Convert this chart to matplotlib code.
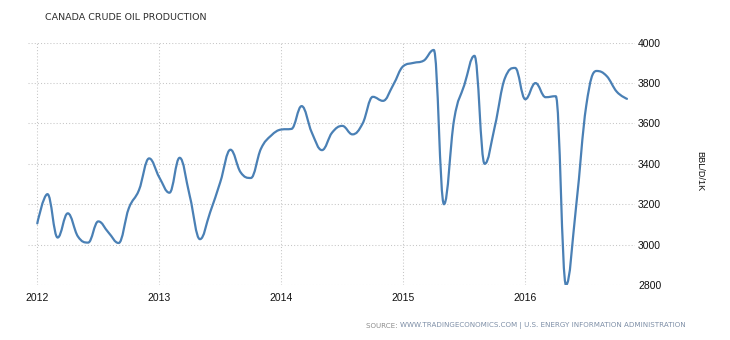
import numpy as np
import matplotlib
matplotlib.use("Agg")
import matplotlib.pyplot as plt
from matplotlib.path import Path
from matplotlib.patches import PathPatch

# Monthly Canadian crude oil production, thousand barrels per day (Jan 2012 - Nov 2016)
start_year = 2012
production = [
    3105, 3250, 3035, 3155, 3040, 3010, 3115, 3060, 3008, 3180, 3270, 3427,  # 2012
    3333, 3257, 3430, 3240, 3027, 3160, 3310, 3470, 3358, 3330, 3475, 3540,  # 2013
    3570, 3573, 3686, 3555, 3468, 3555, 3588, 3546, 3600, 3732, 3712, 3790,  # 2014
    3884, 3900, 3911, 3964, 3200, 3620, 3790, 3935, 3400, 3585, 3825, 3875,  # 2015
    3720, 3800, 3730, 3735, 2800, 3190, 3690, 3860, 3835, 3757, 3722,        # 2016
]
year_ticks = [2012, 2013, 2014, 2015, 2016]
value_ticks = [2800, 3000, 3200, 3400, 3600, 3800, 4000]

title = "CANADA CRUDE OIL PRODUCTION"
unit_label = "BBL/D/1K"
source_prefix = "SOURCE: "
source_rest = "WWW.TRADINGECONOMICS.COM | U.S. ENERGY INFORMATION ADMINISTRATION"

LINE_COLOR = "#4a80b5"
GRID_COLOR = "#c6c6c6"
TEXT_COLOR = "#111111"

x = np.array([start_year + i / 12.0 for i in range(len(production))])
y = np.array(production, dtype=float)


def spline_path(xs, ys, smoothing=1.5):
    """Smooth cubic Bezier through every point, with control points kept
    between neighbouring values so extremes stay at the data points."""
    n = len(xs)
    left = [(xs[i], ys[i]) for i in range(n)]
    right = [(xs[i], ys[i]) for i in range(n)]
    denom = smoothing + 1
    for i in range(1, n - 1):
        lx, ly = xs[i - 1], ys[i - 1]
        px, py = xs[i], ys[i]
        nx, ny = xs[i + 1], ys[i + 1]
        lcx = (smoothing * px + lx) / denom
        lcy = (smoothing * py + ly) / denom
        rcx = (smoothing * px + nx) / denom
        rcy = (smoothing * py + ny) / denom
        corr = 0.0
        if rcx != lcx:
            corr = (rcy - lcy) * (rcx - px) / (rcx - lcx) + py - rcy
        lcy += corr
        rcy += corr
        if lcy > ly and lcy > py:
            lcy = max(ly, py)
            rcy = 2 * py - lcy
        elif lcy < ly and lcy < py:
            lcy = min(ly, py)
            rcy = 2 * py - lcy
        if rcy > ny and rcy > py:
            rcy = max(ny, py)
            lcy = 2 * py - rcy
        elif rcy < ny and rcy < py:
            rcy = min(ny, py)
            lcy = 2 * py - rcy
        left[i] = (lcx, lcy)
        right[i] = (rcx, rcy)
    verts = [(xs[0], ys[0])]
    codes = [Path.MOVETO]
    for i in range(1, n):
        verts += [right[i - 1], left[i], (xs[i], ys[i])]
        codes += [Path.CURVE4] * 3
    return Path(verts, codes)


fig = plt.figure(figsize=(7.3, 3.4), dpi=100, facecolor="white")
W, H = 730.0, 340.0
ax = fig.add_axes([28 / W, 1 - 285 / H, (635 - 28) / W, (285 - 42.7) / H])
ax.set_facecolor("white")

ax.set_xlim(start_year - 9.3 / 122.0, start_year + (635 - 37.3) / 122.0)
ax.set_ylim(value_ticks[0], value_ticks[-1])

for s in ax.spines.values():
    s.set_visible(False)

dot = (0, (1, 2))
for v in value_ticks:
    ax.axhline(v, color=GRID_COLOR, lw=0.75, ls=dot, zorder=1)
for yr in year_ticks:
    ax.axvline(yr, color=GRID_COLOR, lw=0.75, ls=dot, zorder=1)

patch = PathPatch(spline_path(x, y), facecolor="none", edgecolor=LINE_COLOR,
                  lw=1.6, capstyle="round", joinstyle="round", zorder=3)
ax.add_patch(patch)

ax.set_xticks(year_ticks)
ax.set_xticklabels([str(t) for t in year_ticks])
ax.set_yticks(value_ticks)
ax.set_yticklabels([str(t) for t in value_ticks])
ax.yaxis.tick_right()
ax.tick_params(axis="both", length=0, labelsize=7.5, labelcolor=TEXT_COLOR)
ax.tick_params(axis="x", pad=5.5)
ax.tick_params(axis="y", pad=2.2)
for lab in ax.get_xticklabels() + ax.get_yticklabels():
    lab.set_fontfamily("Liberation Sans")

fig.text(45 / W, 1 - 17.3 / H, title, ha="left", va="center",
         fontsize=6.8, color="#2e2e2e", family="DejaVu Sans")

fig.text(700 / W, 1 - 171 / H, unit_label, rotation=270, ha="center",
         va="center", fontsize=6.6, color=TEXT_COLOR, family="Liberation Sans")

renderer = fig.canvas.get_renderer()
t1 = fig.text(366 / W, 1 - 325.7 / H, source_prefix, ha="left", va="center",
              fontsize=5.1, color="#8c8c8c", family="DejaVu Sans")
bb = t1.get_window_extent(renderer=renderer)
fig.text(bb.x1 / W, 1 - 325.7 / H, source_rest, ha="left", va="center",
         fontsize=5.1, color="#7d8ea6", family="DejaVu Sans")

fig.savefig("out.png", dpi=100, facecolor="white")
